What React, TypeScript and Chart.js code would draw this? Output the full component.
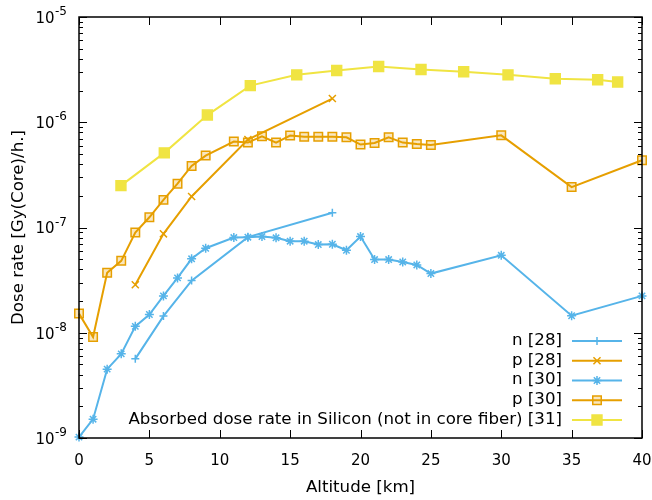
import React, { useEffect, useRef } from 'react';
import { Chart, registerables } from 'chart.js';

Chart.register(...registerables);

// ---------- data ----------
const n28X = [4, 6, 8, 12, 18];
const n28Y = [5.65e-9, 1.44e-8, 3.13e-8, 8.1e-8, 1.38e-7];

const p28X = [4, 6, 8, 12, 18];
const p28Y = [2.86e-8, 8.7e-8, 1.97e-7, 6.84e-7, 1.68e-6];

const n30X = [0, 1, 2, 3, 4, 5, 6, 7, 8, 9, 11, 12, 13, 14, 15, 16, 17, 18, 19, 20, 21, 22, 23, 24, 25, 30, 35, 40];
const n30Y = [1.02e-9, 1.51e-9, 4.51e-9, 6.3e-9, 1.15e-8, 1.49e-8, 2.24e-8, 3.32e-8, 5.04e-8, 6.35e-8, 8.03e-8, 8.09e-8, 8.2e-8, 7.98e-8, 7.41e-8, 7.41e-8, 6.89e-8, 6.93e-8, 6.08e-8, 8.2e-8, 4.96e-8, 4.96e-8, 4.71e-8, 4.41e-8, 3.65e-8, 5.44e-8, 1.45e-8, 2.24e-8];

const p30X = [0, 1, 2, 3, 4, 5, 6, 7, 8, 9, 11, 12, 13, 14, 15, 16, 17, 18, 19, 20, 21, 22, 23, 24, 25, 30, 35, 40];
const p30Y = [1.52e-8, 9.1e-9, 3.71e-8, 4.82e-8, 8.96e-8, 1.25e-7, 1.83e-7, 2.61e-7, 3.84e-7, 4.82e-7, 6.55e-7, 6.41e-7, 7.36e-7, 6.41e-7, 7.47e-7, 7.3e-7, 7.3e-7, 7.3e-7, 7.2e-7, 6.14e-7, 6.36e-7, 7.2e-7, 6.41e-7, 6.2e-7, 6.08e-7, 7.51e-7, 2.42e-7, 4.35e-7];

const siX = [2.98, 6.06, 9.12, 12.17, 15.47, 18.31, 21.29, 24.3, 27.33, 30.48, 33.84, 36.85, 38.27];
const siY = [2.5e-7, 5.12e-7, 1.17e-6, 2.23e-6, 2.82e-6, 3.1e-6, 3.39e-6, 3.17e-6, 3.02e-6, 2.82e-6, 2.59e-6, 2.53e-6, 2.41e-6];

const seriesLabels = ['n [28]', 'p [28]', 'n [30]', 'p [30]', 'Absorbed dose rate in Silicon (not in core fiber) [31]'];
const xTickValues = [0, 5, 10, 15, 20, 25, 30, 35, 40];
const yTickExponents = [-9, -8, -7, -6, -5];
const xTitle = 'Altitude [km]';
const yTitle = 'Dose rate [Gy(Core)/h.]';

const BLUE = '#56b4e9';
const ORANGE = '#e69f00';
const YELLOW = '#f0e442';
const FONT = '"DejaVu Sans", sans-serif';
const TEXT_STRETCH = 1.11;

const zip = (xs: number[], ys: number[]) => xs.map((x, i) => ({ x, y: ys[i] }));

type Mk = { style: string; radius: number; color: string; fill: string };
const markers: Mk[] = [
  { style: 'cross', radius: 4, color: BLUE, fill: BLUE },
  { style: 'crossRot', radius: 5, color: ORANGE, fill: ORANGE },
  { style: 'star', radius: 4.5, color: BLUE, fill: BLUE },
  { style: 'rect', radius: 6, color: ORANGE, fill: 'rgba(230,159,0,0.25)' },
  { style: 'rect', radius: 7, color: YELLOW, fill: YELLOW },
];
const seriesColors = [BLUE, ORANGE, BLUE, ORANGE, YELLOW];

function drawMarker(ctx: CanvasRenderingContext2D, m: Mk, x: number, y: number) {
  ctx.save();
  ctx.strokeStyle = m.color;
  ctx.fillStyle = m.fill;
  ctx.lineWidth = 1.5;
  const r = m.radius;
  ctx.beginPath();
  if (m.style === 'rect') {
    const s = Math.SQRT1_2 * r;
    ctx.rect(x - s, y - s, 2 * s, 2 * s);
    ctx.fill();
    ctx.stroke();
  } else {
    if (m.style === 'cross' || m.style === 'star') {
      ctx.moveTo(x - r, y);
      ctx.lineTo(x + r, y);
      ctx.moveTo(x, y - r);
      ctx.lineTo(x, y + r);
    }
    if (m.style === 'crossRot' || m.style === 'star') {
      const d = Math.SQRT1_2 * r;
      ctx.moveTo(x - d, y - d);
      ctx.lineTo(x + d, y + d);
      ctx.moveTo(x - d, y + d);
      ctx.lineTo(x + d, y - d);
    }
    ctx.stroke();
  }
  ctx.restore();
}

// draw text stretched horizontally (in its own direction)
function stretchedText(ctx: CanvasRenderingContext2D, text: string, x: number, y: number, align: CanvasTextAlign, rotate = 0) {
  ctx.save();
  ctx.translate(x, y);
  if (rotate) ctx.rotate(rotate);
  ctx.scale(TEXT_STRETCH, 1);
  ctx.textAlign = align;
  ctx.fillText(text, 0, 0);
  ctx.restore();
}

const framePlugin = {
  id: 'gnuFrame',
  afterDatasetsDraw(chart: any) {
    const ctx: CanvasRenderingContext2D = chart.ctx;
    const { left, right, top, bottom } = chart.chartArea;
    const xs = chart.scales.x;
    const ys = chart.scales.y;
    ctx.save();
    ctx.strokeStyle = '#000';
    ctx.lineWidth = 1;
    // ticks
    ctx.beginPath();
    xTickValues.forEach((v) => {
      const px = Math.round(xs.getPixelForValue(v)) + 0.5;
      ctx.moveTo(px, bottom);
      ctx.lineTo(px, bottom - 8);
      ctx.moveTo(px, top);
      ctx.lineTo(px, top + 8);
    });
    yTickExponents.forEach((e) => {
      const py = Math.round(ys.getPixelForValue(Math.pow(10, e))) + 0.5;
      ctx.moveTo(left, py);
      ctx.lineTo(left + 8, py);
      ctx.moveTo(right, py);
      ctx.lineTo(right - 8, py);
      if (e < -5) {
        for (let m = 2; m <= 9; m++) {
          const pm = Math.round(ys.getPixelForValue(m * Math.pow(10, e))) + 0.5;
          ctx.moveTo(left, pm);
          ctx.lineTo(left + 4, pm);
          ctx.moveTo(right, pm);
          ctx.lineTo(right - 4, pm);
        }
      }
    });
    ctx.stroke();
    // border
    ctx.lineWidth = 1.5;
    ctx.strokeRect(left, top, right - left, bottom - top);

    // tick labels
    ctx.fillStyle = '#000';
    ctx.font = `15px ${FONT}`;
    ctx.textAlign = 'center';
    ctx.textBaseline = 'middle';
    xTickValues.forEach((v) => {
      ctx.fillText(String(v), xs.getPixelForValue(v), 461);
    });
    yTickExponents.forEach((e) => {
      const py = ys.getPixelForValue(Math.pow(10, e));
      const sup = String(e);
      ctx.font = `12px ${FONT}`;
      const sw = ctx.measureText(sup).width;
      ctx.textAlign = 'right';
      ctx.fillText(sup, 67, py - 5);
      ctx.font = `15px ${FONT}`;
      ctx.fillText('10', 67 - sw - 0.5, py + 2);
    });

    // axis titles
    ctx.font = `15px ${FONT}`;
    ctx.textBaseline = 'middle';
    stretchedText(ctx, xTitle, (left + right) / 2, 488, 'center');
    stretchedText(ctx, yTitle, 19, (top + bottom) / 2, 'center', -Math.PI / 2);

    // legend
    const textRight = 562;
    const lineL = 572;
    const lineR = 622;
    seriesLabels.forEach((lab, i) => {
      const ly = 341 + i * 19.75;
      ctx.fillStyle = '#000';
      ctx.font = `15px ${FONT}`;
      ctx.textBaseline = 'middle';
      stretchedText(ctx, lab, textRight, ly, 'right');
      ctx.strokeStyle = seriesColors[i];
      ctx.lineWidth = 2;
      ctx.beginPath();
      ctx.moveTo(lineL, ly);
      ctx.lineTo(lineR, ly);
      ctx.stroke();
      drawMarker(ctx, markers[i], (lineL + lineR) / 2, ly);
    });
    ctx.restore();
  },
};

export default function App() {
  const ref = useRef<HTMLCanvasElement | null>(null);
  useEffect(() => {
    if (!ref.current) return;
    const seriesData = [zip(n28X, n28Y), zip(p28X, p28Y), zip(n30X, n30Y), zip(p30X, p30Y), zip(siX, siY)];
    const datasets = seriesData.map((d, i) => ({
      label: seriesLabels[i],
      data: d,
      borderColor: seriesColors[i],
      backgroundColor: markers[i].fill,
      borderWidth: 2,
      pointStyle: markers[i].style,
      pointRadius: markers[i].radius,
      pointBorderColor: markers[i].color,
      pointBackgroundColor: markers[i].fill,
      pointBorderWidth: 1.5,
      fill: false,
      tension: 0,
      clip: false as any,
    }));
    const chart = new Chart(ref.current, {
      type: 'line',
      data: { datasets: datasets as any },
      options: {
        animation: false,
        responsive: false,
        devicePixelRatio: 1,
        layout: { padding: { left: 79, top: 17, right: 10, bottom: 62 } },
        plugins: { legend: { display: false }, tooltip: { enabled: false }, title: { display: false } },
        scales: {
          x: { type: 'linear', min: 0, max: 40, display: false },
          y: { type: 'logarithmic', min: 1e-9, max: 1e-5, display: false },
        },
      },
      plugins: [framePlugin],
    });
    return () => chart.destroy();
  }, []);
  return (
    <div style={{ position: 'absolute', left: 0, top: 0, width: 652, height: 500, background: '#fff' }}>
      <canvas ref={ref} width={652} height={500} />
    </div>
  );
}
